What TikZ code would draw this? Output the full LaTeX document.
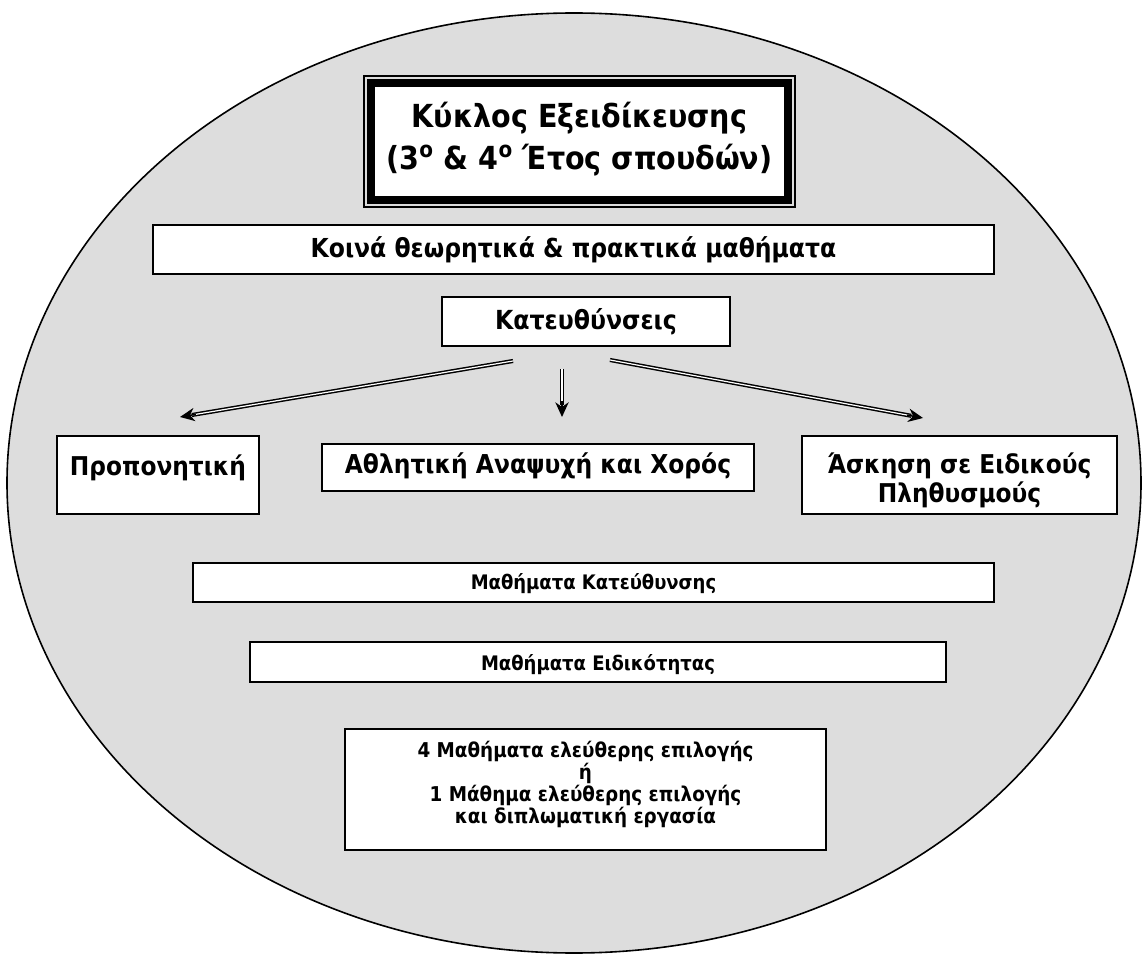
\documentclass[tikz,border=0pt]{standalone}
\usepackage{fontspec}
\newfontfamily\tf[FakeStretch=0.9]{DejaVu Sans}
\usetikzlibrary{arrows.meta,calc}
\definecolor{ellgray}{RGB}{221,221,221}
\newcommand\fsz[2]{\fontsize{#1}{#2}\selectfont}
\newcommand\mlines[2]{\vtop{\baselineskip=#1\lineskiplimit=-\maxdimen\lineskip=0pt
  \halign{\hfil##\hfil\cr#2\crcr}}}
\tikzset{
  box/.style={draw=black, line width=1.4pt, fill=white, inner sep=0pt, outer sep=0pt, anchor=base},
  shaft/.style={draw=black, double=white, double distance=0.9pt, line width=1.1pt},
  tipst/.style={draw=black, line width=1.1pt, -{Stealth[length=11pt,width=10pt,inset=3.5pt]}},
}
\begin{document}
\begin{tikzpicture}[x=0.75pt,y=-0.75pt]
\useasboundingbox (0,0) rectangle (1143,959);
\draw[fill=ellgray, line width=1.2pt] (574,483) ellipse [x radius=567, y radius=470];

% title
\node[box, line width=6pt, minimum width=312.75pt, text height=33.75pt, text depth=54pt,
      font=\tf\bfseries\fsz{23.8pt}{28pt}] (title) at (579.5,128)
      {\mlines{31.5pt}{Κύκλος Εξειδίκευσης\cr(3\textsuperscript{ο} \& 4\textsuperscript{ο} Έτος σπουδών)}\hspace{10pt}};
\draw[line width=1.1pt] ($(title.north west)+(-7,-7)$) rectangle ($(title.south east)+(7,7)$);

\node[box, minimum width=630.75pt, text height=24.75pt, text depth=12pt,
      font=\tf\bfseries\fsz{19.6pt}{24pt}] (common) at (573.5,258) {Κοινά θεωρητικά \& πρακτικά μαθήματα};

\node[box, minimum width=216pt, text height=24.75pt, text depth=12pt,
      font=\tf\bfseries\fsz{19.7pt}{24pt}] (dirs) at (586,330) {Κατευθύνσεις};

\node[box, minimum width=151.5pt, text height=29.25pt, text depth=29.25pt,
      font=\tf\bfseries\fsz{19.4pt}{24pt}] (coach) at (158,475) {Προπονητική};

\node[box, minimum width=324pt, text height=21.75pt, text depth=13.5pt,
      font=\tf\bfseries\fsz{19.5pt}{24pt}] (rec) at (538,473) {Αθλητική Αναψυχή και Χορός};

\node[box, minimum width=236.25pt, text height=27.75pt, text depth=30.75pt,
      font=\tf\bfseries\fsz{19.4pt}{24pt}] (special) at (959.5,473)
      {\mlines{21.75pt}{Άσκηση σε Ειδικούς\cr Πληθυσμούς}};

\node[box, minimum width=600.75pt, text height=19.5pt, text depth=9.75pt,
      font=\tf\bfseries\fsz{15pt}{18pt}] (dircourses) at (593.5,589) {Μαθήματα Κατεύθυνσης};

\node[box, minimum width=522pt, text height=21pt, text depth=9pt,
      font=\tf\bfseries\fsz{15pt}{18pt}] (speccourses) at (598,670) {Μαθήματα Ειδικότητας};

\node[box, minimum width=360.75pt, text height=21pt, text depth=69.75pt,
      font=\tf\bfseries\fsz{15.3pt}{16.5pt}] (electives) at (585.5,757)
      {\mlines{16.5pt}{4 Μαθήματα ελεύθερης επιλογής\cr ή\cr 1 Μάθημα ελεύθερης επιλογής\cr και διπλωματική εργασία}};

% arrows
\coordinate (l0) at ($(dirs.south)+(-73,15)$);
\coordinate (m0) at ($(dirs.south)+(-24,23)$);
\coordinate (r0) at ($(dirs.south)+(24,14)$);
\coordinate (l1) at ($(coach.north)+(22,-19)$);
\coordinate (m1) at ($(rec.north)+(24,-27)$);
\coordinate (r1) at ($(special.north)+(-36.5,-18)$);
\foreach \a/\b in {l0/l1, m0/m1, r0/r1}{
  \draw[shaft, shorten >=9pt] (\a) -- (\b);
  \draw[tipst] ($(\b)!12pt!(\a)$) -- (\b);
}
\end{tikzpicture}
\end{document}
